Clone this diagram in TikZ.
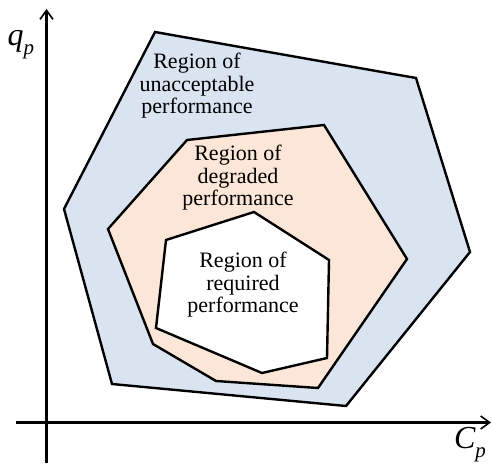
\documentclass[tikz,border=0pt]{standalone}
\usepackage{fontspec}
\setmainfont{Liberation Serif}
\usetikzlibrary{arrows.meta}

\definecolor{outerblue}{HTML}{DAE3F0}
\definecolor{midpeach}{HTML}{FBE6D7}

\begin{document}
\begin{tikzpicture}[x=1pt,y=-1pt,>={Straight Barb[length=9pt,width=13pt,line width=1.6pt]},
  region/.style={draw,line width=2.4pt,line join=miter},
  label/.style={align=center,font=\fontsize{22}{22.5}\selectfont},
  axis/.style={line width=3pt},
  axlabel/.style={font=\fontsize{32}{32}\selectfont\itshape}]
\useasboundingbox (0,0) rectangle (492,465);
% the three performance regions, outermost first
\draw[region,fill=outerblue] (155,32) -- (416,78) -- (470,252) -- (346,406)
  -- (112,384) -- (64,209) -- cycle;
\draw[region,fill=midpeach] (187,140) -- (324,125) -- (407,259) -- (318,388)
  -- (216,381) -- (153,344) -- (108,229) -- cycle;
\draw[region,fill=white] (166,240) -- (254,212) -- (329,260) -- (327,358)
  -- (262,373) -- (156,328) -- cycle;
\node[label] (unacc) at (197,86) {Region of\\unacceptable\\performance};
\node[label] (degr) at (238,178) {Region of\\degraded\\performance};
\node[label] (req) at (243,285) {Region of\\required\\performance};
% axes
\coordinate (ybot) at (46.5,463);
\coordinate (ytop) at (46.5,9);
\coordinate (xleft) at (16,422.5);
\coordinate (xright) at (491,422.5);
\draw[axis,->] (ybot) -- (ytop);
\draw[axis,->] (xleft) -- (xright);
\node[axlabel] (qp) at (21,45) {q\raisebox{-0.28em}{\fontsize{21}{21}\selectfont p}};
\node[axlabel] (cp) at (470,445) {C\raisebox{-0.28em}{\fontsize{21}{21}\selectfont p}};
\end{tikzpicture}
\end{document}
